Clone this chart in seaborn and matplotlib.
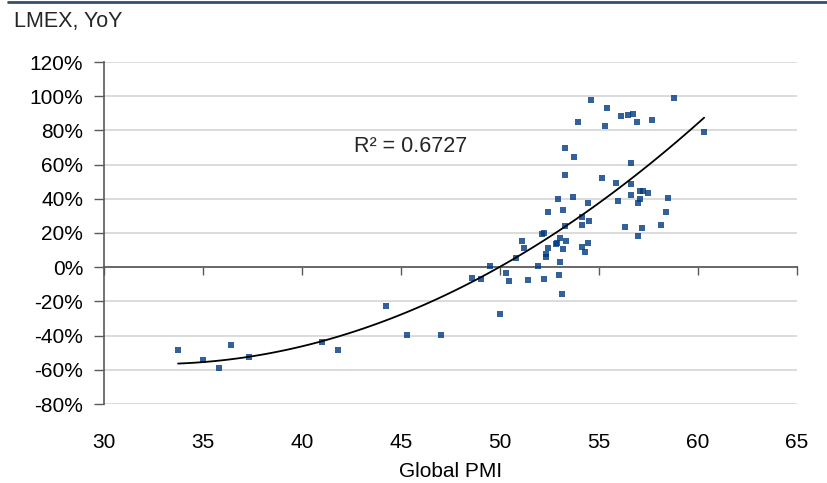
import numpy as np
import pandas as pd
import matplotlib
matplotlib.use("Agg")
import matplotlib.pyplot as plt
from matplotlib.lines import Line2D
from matplotlib.ticker import FuncFormatter
import seaborn as sns

# Global PMI (x) vs LMEX YoY in % (y)
pmi = [33.74, 35.02, 35.82, 36.41, 37.31, 41.03, 41.83, 44.24, 45.32, 47.02,
       48.61, 49.04, 49.49, 50.01, 50.31, 50.43, 50.81, 51.10, 51.23, 51.40,
       51.91, 52.21, 52.33, 52.33, 52.41, 52.41, 52.12, 52.24, 52.84, 52.90,
       52.92, 53.00, 53.04, 53.04, 53.14, 53.17, 53.17, 53.30, 53.34, 53.30,
       53.30, 53.72, 53.68, 53.92, 54.14, 54.14, 54.14, 54.31, 54.45, 54.43,
       54.52, 54.61, 55.15, 55.28, 55.41, 55.87, 55.95, 56.13, 56.30, 56.46,
       56.63, 56.63, 56.63, 56.72, 56.93, 56.97, 56.97, 57.06, 57.21, 57.06,
       57.19, 57.49, 57.69, 58.11, 58.37, 58.49, 58.79, 60.31]
lmex_yoy = [-48.4, -54.2, -58.7, -45.4, -52.6, -43.5, -48.4, -22.4, -39.6, -39.6,
            -6.1, -6.8, 0.6, -27.2, -3.3, -8.3, 5.6, 15.6, 11.4, -7.7,
            0.5, -6.8, 7.5, 6.1, 11.4, 32.3, 19.7, 20.1, 13.3, 14.2,
            39.6, -4.3, 2.9, 17.3, -15.5, 10.4, 33.3, 24.0, 15.2, 54.2,
            69.5, 64.2, 41.1, 85.1, 29.4, 24.4, 11.8, 8.8, 14.3, 37.6,
            26.9, 97.8, 52.3, 82.7, 93.0, 49.4, 38.7, 88.2, 23.6, 89.1,
            61.2, 48.9, 42.0, 89.5, 85.2, 37.6, 18.5, 44.6, 44.6, 39.8,
            23.0, 43.1, 86.1, 24.6, 32.3, 40.2, 99.2, 79.2]

x_ticks = [30, 35, 40, 45, 50, 55, 60, 65]
y_ticks = [-80, -60, -40, -20, 0, 20, 40, 60, 80, 100, 120]
r2_label = "R² = 0.6727"

df = pd.DataFrame({"pmi": pmi, "lmex": lmex_yoy})

sns.set_theme(style="white")
plt.rcParams["font.family"] = ["Liberation Sans", "DejaVu Sans"]

fig = plt.figure(figsize=(8.27, 4.83), dpi=100)
ax = fig.add_axes([104 / 827, 1 - 404 / 483, 693 / 827, 342 / 483])

sns.regplot(data=df, x="pmi", y="lmex", order=2, ci=None, ax=ax,
            marker="s",
            scatter_kws=dict(s=20, color="#003A80", linewidths=0, zorder=3),
            line_kws=dict(color="black", lw=1.3, zorder=4))

ax.set_xlim(30, 65)
ax.set_ylim(-80, 120)
ax.set_xticks(x_ticks)
ax.set_yticks(y_ticks)
ax.yaxis.set_major_formatter(FuncFormatter(lambda v, p: f"{v:.0f}%"))

ax.grid(False)
ax.yaxis.grid(True, color="#D9D9D9", lw=1.3)
for s in ["top", "right", "bottom"]:
    ax.spines[s].set_visible(False)
ax.spines["left"].set_color("#595959")
ax.spines["left"].set_linewidth(1.2)

ax.tick_params(axis="y", left=True, direction="out", length=7, width=1,
               color="#595959", pad=8, labelsize=15, labelcolor="black")
ax.tick_params(axis="x", bottom=True, length=0, pad=21, labelsize=15,
               labelcolor="black")

ax.set_xlabel("Global PMI", fontsize=15, labelpad=7, color="black")
ax.set_ylabel("")

# zero line with tick marks
ax.axhline(0, color="#595959", lw=1.2, zorder=2)
sec = ax.secondary_xaxis(0.4)
sec.set_xticks(x_ticks)
sec.tick_params(axis="x", direction="out", length=6, width=1, color="#595959",
                labelbottom=False)

ax.text(45.5, 70.3, r2_label, ha="center", va="center", fontsize=15.5)

fig.text(14 / 827, 1 - 22 / 483, "LMEX, YoY", ha="left", va="center", fontsize=15.5)
fig.add_artist(Line2D([8 / 827, 1], [1 - 1.5 / 483, 1 - 1.5 / 483],
                      color="#34506E", lw=2, transform=fig.transFigure))

fig.savefig("out.png", dpi=100)
